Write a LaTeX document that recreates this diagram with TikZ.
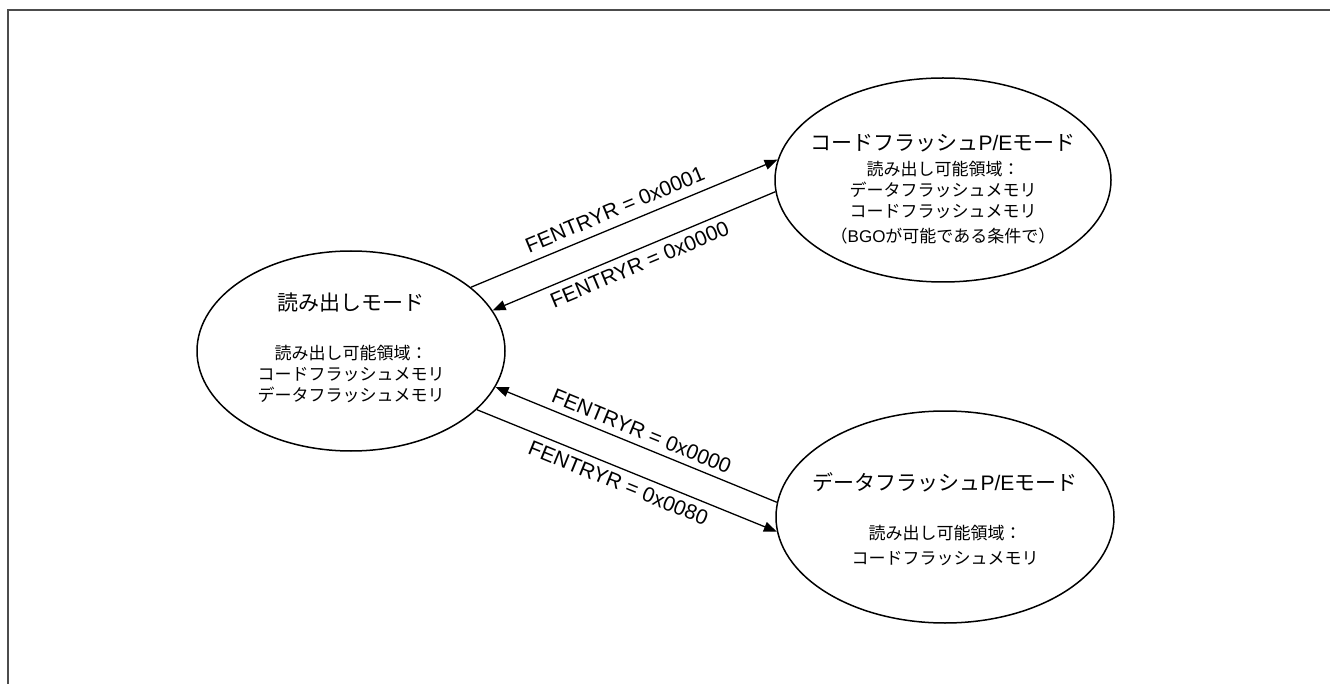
\documentclass[tikz,border=0pt]{standalone}
\usepackage{fontspec}
\setmainfont{Liberation Sans}
\newfontfamily\jp{Noto Sans CJK JP}
\usetikzlibrary{shapes.geometric,arrows.meta}

\begin{document}
\begin{tikzpicture}[x=1pt, y=-1pt,
    modeshape/.style={draw, ellipse, line width=1.5pt, inner sep=0pt},
    modetitle/.style={font=\jp\fontsize{21}{25}\selectfont},
    modebody/.style={font=\jp\fontsize{17}{21}\selectfont, align=center},
    trans/.style={line width=1.3pt, -{Triangle[length=13pt,width=10pt]}},
    cond/.style={font=\fontsize{21}{25}\selectfont, sloped}]
\useasboundingbox (0,0) rectangle (1330,684);
\draw[black!70, line width=2pt] (7.7,684) -- (7.7,10) -- (1330,10);

% three modes
\node[modeshape, minimum width=308pt, minimum height=200pt] (read) at (351,351) {};
\node[modeshape, minimum width=336pt, minimum height=204pt] (code) at (943,180) {};
\node[modeshape, minimum width=338pt, minimum height=212pt] (data) at (945,517) {};

\node[modetitle] (readtitle) at (351,303) {読み出しモード};
\node[modebody] (readbody) at (351,374) {読み出し可能領域：\\コードフラッシュメモリ\\データフラッシュメモリ};

\node[modetitle] (codetitle) at (943,143) {コードフラッシュ{\rmfamily P/E}モード};
\node[modebody] (codebody) at (943,203) {読み出し可能領域：\\データフラッシュメモリ\\コードフラッシュメモリ\\[4pt]（{\rmfamily BGO}が可能である条件で）};

\node[modetitle] (datatitle) at (945,482) {データフラッシュ{\rmfamily P/E}モード};
\node[modebody, font=\jp\fontsize{17}{25}\selectfont] (databody) at (945,545) {読み出し可能領域：\\コードフラッシュメモリ};

% transitions
\draw[trans] (read.28) -- node[cond, above=5pt, pos=0.49] {FENTRYR = 0x0001} (code.173);
\draw[trans] (code.184) -- node[cond, below=3pt, pos=0.5] {FENTRYR = 0x0000} (read.16);
\draw[trans] (data.175) -- node[cond, above=3pt, pos=0.5] {FENTRYR = 0x0000} (read.-14);
\draw[trans] (read.-25) -- node[cond, below=3pt, pos=0.49] {FENTRYR = 0x0080} (data.185.5);
\end{tikzpicture}
\end{document}
